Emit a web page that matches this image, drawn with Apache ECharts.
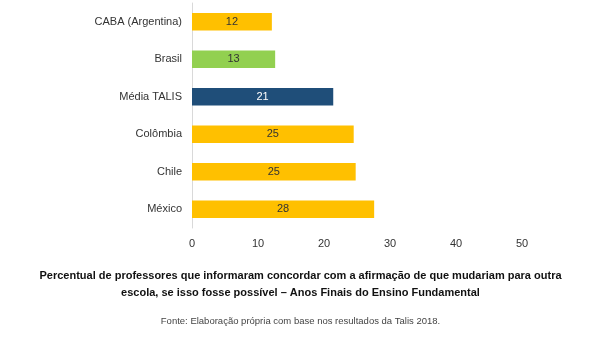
<!DOCTYPE html>
<html><head><meta charset="utf-8">
<script src="https://cdn.jsdelivr.net/npm/echarts@6/dist/echarts.min.js"></script>
<style>html,body{margin:0;padding:0;background:#fff}#c{width:601px;height:340px}</style>
</head><body><div id="c"></div>
<script>
const categories = ["CABA (Argentina)", "Brasil", "Média TALIS", "Colômbia", "Chile", "México"];
const values = [12.1, 12.6, 21.4, 24.5, 24.8, 27.6];
const labels = ["12", "13", "21", "25", "25", "28"];
const barColors = ["#FFC000", "#92D050", "#1F4E79", "#FFC000", "#FFC000", "#FFC000"];
const xTicks = [0, 10, 20, 30, 40, 50];

const chart = echarts.init(document.getElementById('c'), null, {renderer: 'canvas'});
chart.setOption({
  animation: false,
  backgroundColor: '#fff',
  grid: {left: 192, right: 79, top: 3, height: 225, containLabel: false},
  xAxis: {
    type: 'value', min: xTicks[0], max: xTicks[xTicks.length - 1], interval: 10,
    splitLine: {show: false}, axisLine: {show: false}, axisTick: {show: false},
    axisLabel: {color: '#333', fontFamily: 'Liberation Sans', fontSize: 11, margin: 10}
  },
  yAxis: {
    type: 'category', data: categories, inverse: true,
    axisLine: {show: true, lineStyle: {color: '#d9d9d9', width: 1}},
    axisTick: {show: false},
    axisLabel: {color: '#333', fontFamily: 'Liberation Sans', fontSize: 11, margin: 10}
  },
  series: [{
    type: 'bar', barWidth: '47%',
    data: values.map((v, i) => ({value: v, itemStyle: {color: barColors[i]},
      label: {color: i === 2 ? '#fff' : '#333'}})),
    label: {show: true, position: 'inside', fontFamily: 'Liberation Sans', fontSize: 11,
      formatter: p => labels[p.dataIndex]}
  }],
  title: [{
    text: 'Percentual de professores que informaram concordar com a afirmação de que mudariam para outra\nescola, se isso fosse possível – Anos Finais do Ensino Fundamental',
    left: 'center', top: 262,
    textStyle: {fontFamily: 'Liberation Sans', fontSize: 11, fontWeight: 'bold', color: '#111', lineHeight: 17, align: 'center'}
  }, {
    text: 'Fonte: Elaboração própria com base nos resultados da Talis 2018.',
    left: 'center', top: 311,
    textStyle: {fontFamily: 'Liberation Sans', fontSize: 9.5, fontWeight: 'normal', color: '#444'}
  }]
});
</script></body></html>
